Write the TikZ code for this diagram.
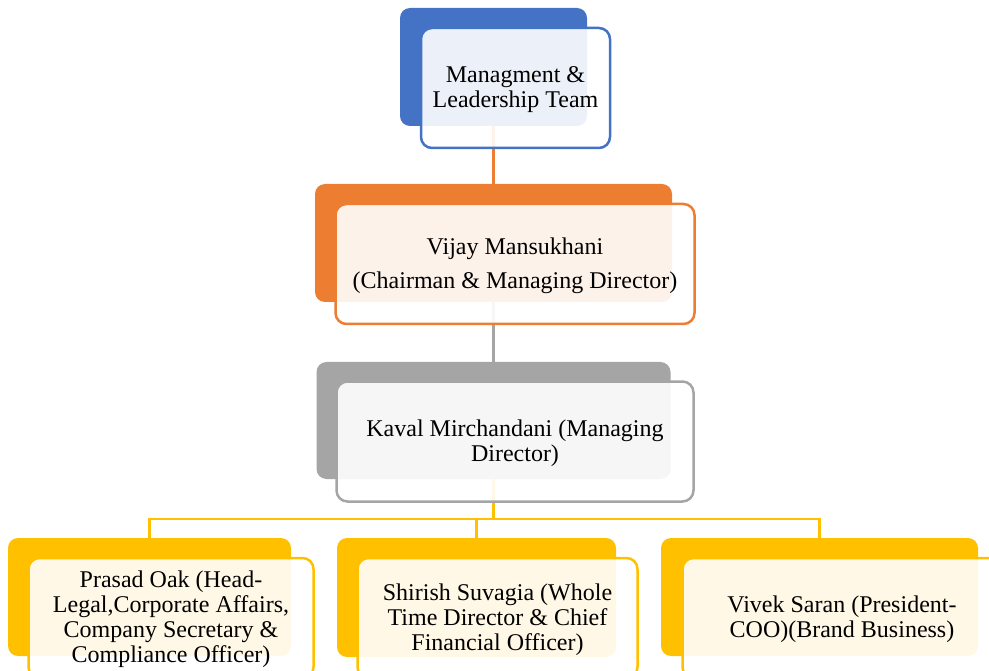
\documentclass[tikz,border=0pt]{standalone}
\usepackage{fontspec}
\setmainfont{Liberation Serif}
\usetikzlibrary{backgrounds}
\definecolor{cblue}{HTML}{4472C4}
\definecolor{corange}{HTML}{ED7D31}
\definecolor{cgray}{HTML}{A5A5A5}
\definecolor{cgold}{HTML}{FFC000}
\begin{document}
\begin{tikzpicture}[x=1pt,y=-1pt,
  backbox/.style={rectangle, rounded corners=10pt, fill=#1, draw=none, inner sep=0pt},
  frontbox/.style={rectangle, rounded corners=11pt, draw=#1, line width=2.5pt, fill=white,
    fill opacity=0.9, draw opacity=1, inner sep=0pt},
  txt/.style={inner sep=0pt, align=center, font=\fontsize{24pt}{25pt}\selectfont},
  conn/.style={draw=#1, line width=2.2pt}]
\useasboundingbox (0,0) rectangle (989,671);
\clip (0,0) rectangle (989,671);
% level 1
\node[backbox=cblue, minimum width=187pt, minimum height=118pt] (b1) at (493.5,67) {};
\node[frontbox=cblue, minimum width=189pt, minimum height=120pt] (f1) at (515.5,88) {};
\node[txt] (t1) at ([yshift=-2pt]f1.center) {Managment \&\\Leadership Team};
% level 2
\node[backbox=corange, minimum width=357pt, minimum height=118pt] (b2) at (493.5,243) {};
\node[frontbox=corange, minimum width=359pt, minimum height=120pt] (f2) at (515,264) {};
\node[txt] (t2) at ([yshift=-2pt]f2.center) {Vijay Mansukhani\\[9pt](Chairman \& Managing Director)};
% level 3
\node[backbox=cgray, minimum width=354pt, minimum height=117pt] (b3) at (493.5,420.5) {};
\node[frontbox=cgray, minimum width=357pt, minimum height=120pt] (f3) at (515,441.5) {};
\node[txt] (t3) at ([yshift=-2pt]f3.center) {Kaval Mirchandani (Managing\\Director)};
% level 4
\node[backbox=cgold, minimum width=283pt, minimum height=118pt] (c1) at (149.5,597) {};
\node[frontbox=cgold, minimum width=285pt, minimum height=120pt] (g1) at (171,618) {};
\node[txt] (s1) at ([yshift=-1.5pt]g1.center) {Prasad Oak (Head-\\Legal,Corporate Affairs,\\Company Secretary \&\\Compliance Officer)};
\node[backbox=cgold, minimum width=279pt, minimum height=119pt] (c2) at (476.5,597.5) {};
\node[frontbox=cgold, minimum width=280pt, minimum height=120pt] (g2) at (497.5,618) {};
\node[txt] (s2) at ([yshift=-1.5pt]g2.center) {Shirish Suvagia (Whole\\Time Director \& Chief\\Financial Officer)};
\node[backbox=cgold, minimum width=317pt, minimum height=118pt] (c3) at (819.5,597) {};
\node[frontbox=cgold, minimum width=319pt, minimum height=120pt] (g3) at (842,618) {};
\node[txt] (s3) at ([yshift=-1.5pt]g3.center) {Vivek Saran (President-\\COO)(Brand Business)};
% connectors
\begin{scope}[on background layer]
  \coordinate (j) at (493.5,519);
  \draw[conn=corange] (b1.south) -- (b2.north);
  \draw[conn=cgray] (b2.south) -- (b3.north);
  \draw[conn=cgold] (b3.south) -- (j);
  \draw[conn=cgold] (j) -| (c1.north);
  \draw[conn=cgold] (j) -| (c2.north);
  \draw[conn=cgold] (j) -| (c3.north);
\end{scope}
\end{tikzpicture}
\end{document}
